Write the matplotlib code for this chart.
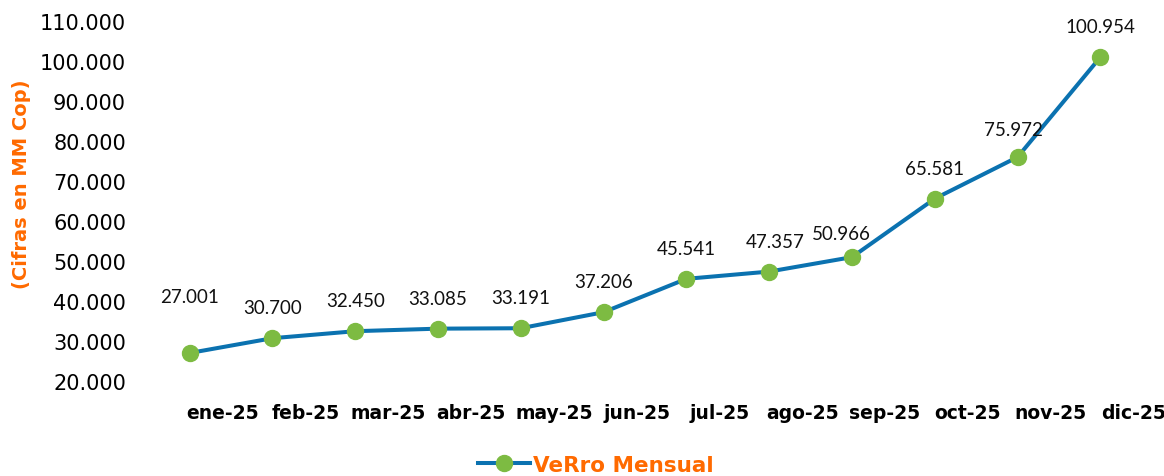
import matplotlib
matplotlib.use("Agg")
import matplotlib.pyplot as plt
import matplotlib.transforms as mtransforms
from matplotlib.ticker import FuncFormatter
from matplotlib.lines import Line2D

months = ["ene-25", "feb-25", "mar-25", "abr-25", "may-25", "jun-25",
          "jul-25", "ago-25", "sep-25", "oct-25", "nov-25", "dic-25"]
verro_mensual = [27001, 30700, 32450, 33085, 33191, 37206,
                 45541, 47357, 50966, 65581, 75972, 100954]
y_ticks = [20000, 30000, 40000, 50000, 60000, 70000, 80000, 90000, 100000, 110000]

LINE_COLOR = "#0B72B0"
MARKER_COLOR = "#7DBB42"
ORANGE = "#FF6A00"


def miles(v, pos=None):
    return f"{v:,.0f}".replace(",", ".")


W, H, DPI = 1164, 477, 100
fig = plt.figure(figsize=(W / DPI, H / DPI), dpi=DPI)
ax = fig.add_axes([140 / W, 95 / H, 1010 / W, 360 / H])

x = list(range(len(months)))
ax.plot(x, verro_mensual, color=LINE_COLOR, lw=2.9, marker="o",
        markersize=11.5, markerfacecolor=MARKER_COLOR,
        markeredgecolor=MARKER_COLOR, zorder=3)

ax.set_xlim(-0.6, 11.6)
ax.set_ylim(20000, 110000)
ax.set_yticks(y_ticks)
ax.yaxis.set_major_formatter(FuncFormatter(miles))
ax.set_xticks(x)
ax.set_xticklabels(months, fontsize=13.5, fontweight="bold", family="DejaVu Sans")
for lbl in ax.get_yticklabels():
    lbl.set_fontsize(15)
    lbl.set_family("DejaVu Sans")
ax.tick_params(axis="both", length=0)
ax.tick_params(axis="x", pad=16)
ax.tick_params(axis="y", pad=10)

# tick labels sit a bit to the right of their points, like the original
shift = mtransforms.ScaledTranslation(33 / DPI, 0, fig.dpi_scale_trans)
for lbl in ax.get_xticklabels():
    lbl.set_transform(lbl.get_transform() + shift)

for s in ax.spines.values():
    s.set_visible(False)

# label offsets (points), a few were hand-moved in the source chart
nudges = {0: (0, 41), 7: (4, 22), 8: (-8, 17), 10: (-3, 20)}
for i, v in enumerate(verro_mensual):
    dx, dy = nudges.get(i, (0, 22))
    ax.annotate(miles(v), (i, v), xytext=(dx, dy), textcoords="offset points",
                ha="center", va="center", fontsize=13.5, family="Lato",
                color="#111111")

ax.set_ylabel("(Cifras en MM Cop)", color=ORANGE, fontsize=14,
              fontweight="bold", family="DejaVu Sans")
ax.yaxis.set_label_coords(-0.108, 0.55)

handle = Line2D([], [], color=LINE_COLOR, lw=2.9, marker="o", markersize=11.5,
                markerfacecolor=MARKER_COLOR, markeredgecolor=MARKER_COLOR)
leg = fig.legend([handle], ["VeRro Mensual"], loc="center",
                 bbox_to_anchor=(0.512, 0.024), frameon=False,
                 handlelength=2.4, handletextpad=0.15,
                 prop={"family": "DejaVu Sans", "weight": "bold", "size": 15.5})
for t in leg.get_texts():
    t.set_color(ORANGE)

fig.savefig("out.png", dpi=DPI)
